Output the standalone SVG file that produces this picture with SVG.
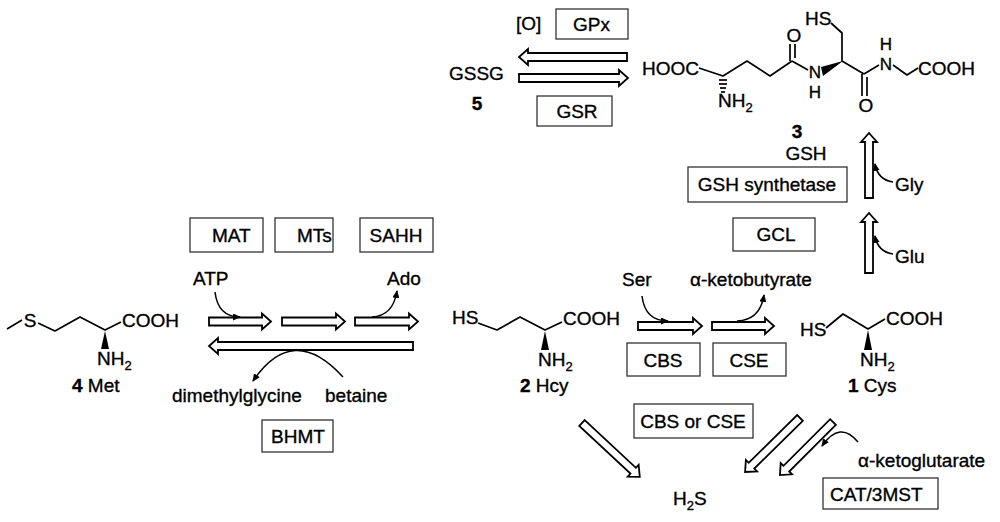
<svg xmlns="http://www.w3.org/2000/svg" width="1000" height="522" viewBox="0 0 1000 522">
<style>
text{font-family:"Liberation Sans",Arial,sans-serif;font-size:19px;fill:#000;stroke:#000;stroke-width:0.35}
.b{font-weight:bold}
.m{text-anchor:middle}
.sm{font-size:17px}
.sub{font-size:13px}
.box{fill:none;stroke:#333;stroke-width:1.3}
.bond{fill:none;stroke:#000;stroke-width:1.7;stroke-linejoin:round}
.wedge{fill:#000;stroke:none}
.oa{fill:#fff;stroke:#000;stroke-width:1.8;stroke-linejoin:miter}
.cur{fill:none;stroke:#000;stroke-width:1.5;marker-end:url(#ah)}
</style>
<defs>
<marker id="ah" viewBox="0 0 8 7" markerWidth="8" markerHeight="7" refX="7" refY="3.5" orient="auto" markerUnits="userSpaceOnUse">
<path d="M0,0 L8,3.5 L0,7 Z" fill="#000"/>
</marker>
</defs>
<rect width="1000" height="522" fill="#fff"/>

<g id="met">
<polyline class="bond" points="7,329 22,320"/>
<text x="30" y="327" class="m">S</text>
<polyline class="bond" points="38,323 55,331 80,317 105,330 121,322"/>
<text x="122" y="327">COOH</text>
<polygon class="wedge" points="105,331 101,349 109,349"/>
<text x="97" y="365">NH<tspan class="sub" dy="5">2</tspan></text>
<text x="72" y="392"><tspan class="b">4</tspan> Met</text>
</g>

<g id="hcy">
<text x="452" y="324">HS</text>
<polyline class="bond" points="478,323 497,330 520,317 545,330 562,322"/>
<text x="563" y="325">COOH</text>
<polygon class="wedge" points="545,331 541,350 549,350"/>
<text x="538" y="366">NH<tspan class="sub" dy="5">2</tspan></text>
<text x="520" y="392"><tspan class="b">2</tspan> Hcy</text>
</g>

<g id="cys">
<text x="800" y="336">HS</text>
<polyline class="bond" points="826,328 843,314 868,329 885,319"/>
<text x="886" y="325">COOH</text>
<polygon class="wedge" points="868,330 864,350 872,350"/>
<text x="860" y="366">NH<tspan class="sub" dy="5">2</tspan></text>
<text x="848" y="392"><tspan class="b">1</tspan> Cys</text>
</g>

<g id="gsh">
<text x="642" y="75">HOOC</text>
<polyline class="bond" points="699,68 723,76 747,61 770,76 792,61"/>
<g class="bond"><line x1="719" y1="80" x2="727" y2="80"/><line x1="719" y1="84" x2="727" y2="84"/><line x1="720" y1="88" x2="726" y2="88"/><line x1="721" y1="92" x2="725" y2="92"/></g>
<text x="718" y="107">NH<tspan class="sub" dy="5">2</tspan></text>
<line class="bond" x1="790" y1="61" x2="790" y2="44"/>
<line class="bond" x1="795" y1="58" x2="795" y2="44"/>
<text x="794" y="42" class="m">O</text>
<line class="bond" x1="792" y1="61" x2="808" y2="70"/>
<text x="815" y="78" class="m sm">N</text>
<text x="815" y="98" class="m sm">H</text>
<polygon class="wedge" points="821,67 823,76 843,61"/>
<polyline class="bond" points="831,23 842,33 842,61 864,74"/>
<text x="805" y="25">HS</text>
<line class="bond" x1="862" y1="74" x2="862" y2="96"/>
<line class="bond" x1="867" y1="77" x2="867" y2="96"/>
<text x="866" y="112" class="m">O</text>
<line class="bond" x1="864" y1="74" x2="879" y2="65"/>
<text x="886" y="50" class="m sm">H</text>
<text x="886" y="70" class="m sm">N</text>
<polyline class="bond" points="893,65 907,75 918,68"/>
<text x="918" y="75">COOH</text>
<text x="797" y="138" class="m b">3</text>
<text x="806" y="160" class="m">GSH</text>
</g>

<g id="gssg">
<text x="449" y="80">GSSG</text>
<text x="477" y="110" class="m b">5</text>
</g>

<g id="h2s">
<text x="673" y="505">H<tspan class="sub" dy="5">2</tspan><tspan dy="-5">S</tspan></text>
</g>

<g id="enzymes">
<rect class="box" x="556" y="9" width="72" height="30"/><text x="573" y="31">GPx</text>
<rect class="box" x="537" y="96" width="75" height="30"/><text x="577" y="118" class="m">GSR</text>
<rect class="box" x="688" y="167" width="159" height="35"/><text x="767" y="191" class="m">GSH synthetase</text>
<rect class="box" x="733" y="218" width="82" height="33"/><text x="776" y="241" class="m">GCL</text>
<rect class="box" x="190" y="218" width="73" height="34"/><text x="212" y="242">MAT</text>
<rect class="box" x="275" y="218" width="58" height="34"/><text x="297" y="242">MTs</text>
<rect class="box" x="360" y="218" width="73" height="34"/><text x="396" y="242" class="m">SAHH</text>
<rect class="box" x="262" y="420" width="71" height="32"/><text x="298" y="443" class="m">BHMT</text>
<rect class="box" x="627" y="343" width="73" height="33"/><text x="663" y="367" class="m">CBS</text>
<rect class="box" x="713" y="343" width="73" height="33"/><text x="749" y="367" class="m">CSE</text>
<rect class="box" x="634" y="404" width="119" height="34"/><text x="693" y="428" class="m">CBS or CSE</text>
<rect class="box" x="823" y="478" width="115" height="31"/><text x="830" y="501">CAT/3MST</text>
</g>

<g id="cofactors">
<text x="516" y="30">[O]</text>
<text x="193" y="285">ATP</text>
<text x="387" y="285">Ado</text>
<text x="172" y="402">dimethylglycine</text>
<text x="325" y="402">betaine</text>
<text x="622" y="286">Ser</text>
<text x="690" y="286">α-ketobutyrate</text>
<text x="895" y="191">Gly</text>
<text x="895" y="263">Glu</text>
<text x="858" y="467">α-ketoglutarate</text>
</g>

<g id="connectors">
<path class="oa" d="M627,53 H528 V49 L519,57 L528,65 V61 H627 Z"/>
<path class="oa" d="M519,74 H619 V70 L628,78 L619,86 V82 H519 Z"/>
<path class="oa" d="M209,317.5 H262 V313.5 L271,321.5 L262,329.5 V325.5 H209 Z"/>
<path class="oa" d="M282,317.5 H336 V313.5 L345,321.5 L336,329.5 V325.5 H282 Z"/>
<path class="oa" d="M355,317.5 H409 V313.5 L418,321.5 L409,329.5 V325.5 H355 Z"/>
<path class="oa" d="M413,342 H218 V338 L209,346 L218,354 V350 H413 Z"/>
<path class="oa" d="M638,322 H693 V318 L702,326 L693,334 V330 H638 Z"/>
<path class="oa" d="M712,322 H765 V318 L774,326 L765,334 V330 H712 Z"/>
<path class="oa" d="M865,198 V142 H861 L869,133 L877,142 H873 V198 Z"/>
<path class="oa" d="M865,273 V222 H861 L869,213 L877,222 H873 V273 Z"/>
<path class="oa" transform="translate(582,423) rotate(43)" d="M0,-4 H70 V-8 L79,0 L70,8 V4 H0 Z"/>
<path class="oa" transform="translate(800,418) rotate(135.5)" d="M0,-4 H68 V-8 L77,0 L68,8 V4 H0 Z"/>
<path class="oa" transform="translate(833,422) rotate(135)" d="M0,-4 H66 V-8 L75,0 L66,8 V4 H0 Z"/>
<path class="cur" d="M215,292 Q218,317 240,317"/>
<path class="cur" d="M372,317 Q393,316 397,291"/>
<path class="cur" d="M343,377 Q293,322 253,381"/>
<path class="cur" d="M642,296 Q645,321 668,321"/>
<path class="cur" d="M737,321 Q760,320 764,295"/>
<path class="cur" d="M893,182 Q878,180 875,164"/>
<path class="cur" d="M893,254 Q878,252 875,236"/>
<path class="cur" d="M858,442 Q840,420 822,446"/>
</g>
</svg>
